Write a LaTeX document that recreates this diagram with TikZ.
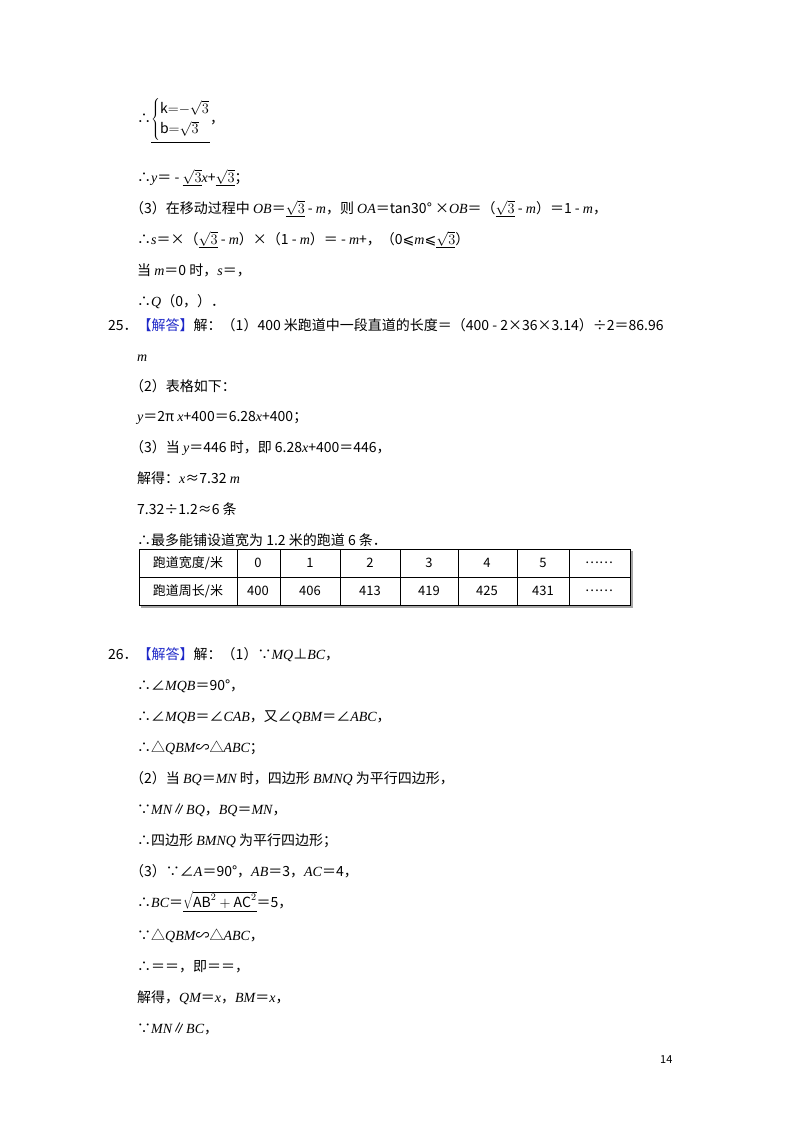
\documentclass[tikz,border=0pt]{standalone}
\usepackage{fontspec}
\setmainfont{Noto Sans CJK SC}
\newfontfamily\vit{Liberation Serif Italic}
\newfontfamily\rmn{Liberation Serif}
\newfontfamily\djv{DejaVu Sans}
\newcommand{\vv}[1]{{\vit #1}}
\newcommand{\myle}{{\djv ⩽}}
\newcommand{\sq}{\underline{\rmn$\sqrt{3}$}}
\definecolor{ansblue}{RGB}{30,40,200}
\begin{document}
\begin{tikzpicture}[x=1pt,y=-1pt,
  ln/.style={anchor=base west,inner sep=0pt,font=\fontsize{14}{16}\selectfont},
  cell/.style={anchor=center,inner sep=0pt,font=\fontsize{13}{15}\selectfont},
  grid/.style={line width=0.8pt}]
\useasboundingbox (0,0) rectangle (800,1132);
\node[ln] (a1) at (137,123) {∴\underline{\renewcommand{\arraystretch}{1.3}$\left\{\begin{array}{@{}l@{}}\mathrm{k}{=}{-}\sqrt{3}\\ \mathrm{b}{=}\sqrt{3}\end{array}\right.$}，};
\node[ln] (a2) at (137,182) {∴\vv{y}＝ - \sq\vv{x}+\sq；};
\node[ln] (a3) at (130,213) {（3）在移动过程中 \vv{OB}＝\sq{} - \vv{m}，则 \vv{OA}＝tan30° ×\vv{OB}＝（\sq{} - \vv{m}）＝1 - \vv{m}，};
\node[ln] (a4) at (137,244) {∴\vv{s}＝×（\sq{} - \vv{m}）×（1 - \vv{m}）＝ - \vv{m}+，（0\myle\vv{m}\myle\sq）};
\node[ln] (a5) at (137,275) {当 \vv{m}＝0 时，\vv{s}＝，};
\node[ln] (a6) at (137,306) {∴\vv{Q}（0，）．};
\node[ln] (b1) at (108,330) {25．\textcolor{ansblue}{【解答】}解：（1）400 米跑道中一段直道的长度＝（400 - 2×36×3.14）÷2＝86.96};
\node[ln] (b2) at (137,361) {\vv{m}};
\node[ln] (b3) at (130,391) {（2）表格如下：};
\node[ln] (b4) at (137,421) {\vv{y}＝2π \vv{x}+400＝6.28\vv{x}+400；};
\node[ln] (b5) at (130,452) {（3）当 \vv{y}＝446 时，即 6.28\vv{x}+400＝446，};
\node[ln] (b6) at (137,483) {解得：\vv{x}≈7.32 \vv{m}};
\node[ln] (b7) at (137,514) {7.32÷1.2≈6 条};
\node[ln] (b8) at (137,545) {∴最多能铺设道宽为 1.2 米的跑道 6 条．};
% table
\draw[grid] (139,549) rectangle (630,605);
\draw[grid] (139,577) -- (630,577);
\foreach \xx in {237,280,340,400,458,517,569} \draw[grid] (\xx,549) -- (\xx,605);
\draw[line width=1.5pt,gray!70] (141,607) -- (632,607) -- (632,551);
\node[cell] (h0) at (188,563) {跑道宽度/米};
\node[cell] (h1) at (258,563) {0};
\node[cell] (h2) at (310,563) {1};
\node[cell] (h3) at (370,563) {2};
\node[cell] (h4) at (429,563) {3};
\node[cell] (h5) at (487,563) {4};
\node[cell] (h6) at (543,563) {5};
\node[cell] (h7) at (599,563) {……};
\node[cell] (r0) at (188,591) {跑道周长/米};
\node[cell] (r1) at (258,591) {400};
\node[cell] (r2) at (310,591) {406};
\node[cell] (r3) at (370,591) {413};
\node[cell] (r4) at (429,591) {419};
\node[cell] (r5) at (487,591) {425};
\node[cell] (r6) at (543,591) {431};
\node[cell] (r7) at (599,591) {……};
\node[ln] (c1) at (108,659) {26．\textcolor{ansblue}{【解答】}解：（1）∵\vv{MQ}⊥\vv{BC}，};
\node[ln] (c2) at (137,690) {∴∠\vv{MQB}＝90°，};
\node[ln] (c3) at (137,721) {∴∠\vv{MQB}＝∠\vv{CAB}，又∠\vv{QBM}＝∠\vv{ABC}，};
\node[ln] (c4) at (137,752) {∴△\vv{QBM}∽△\vv{ABC}；};
\node[ln] (c5) at (130,783) {（2）当 \vv{BQ}＝\vv{MN} 时，四边形 \vv{BMNQ} 为平行四边形，};
\node[ln] (c6) at (137,814) {∵\vv{MN}∥\vv{BQ}，\vv{BQ}＝\vv{MN}，};
\node[ln] (c7) at (137,845) {∴四边形 \vv{BMNQ} 为平行四边形；};
\node[ln] (c8) at (130,876) {（3）∵∠\vv{A}＝90°，\vv{AB}＝3，\vv{AC}＝4，};
\node[ln] (c9) at (137,907) {∴\vv{BC}＝\underline{\rmn$\sqrt{\mathrm{AB}^2+\mathrm{AC}^2}$}＝5，};
\node[ln] (c10) at (137,940) {∵△\vv{QBM}∽△\vv{ABC}，};
\node[ln] (c11) at (137,971) {∴＝＝，即＝＝，};
\node[ln] (c12) at (137,1002) {解得，\vv{QM}＝\vv{x}，\vv{BM}＝\vv{x}，};
\node[ln] (c13) at (137,1033) {∵\vv{MN}∥\vv{BC}，};
\node[ln,font=\fontsize{11}{13}\selectfont] (pg) at (660,1063) {14};
\end{tikzpicture}
\end{document}
